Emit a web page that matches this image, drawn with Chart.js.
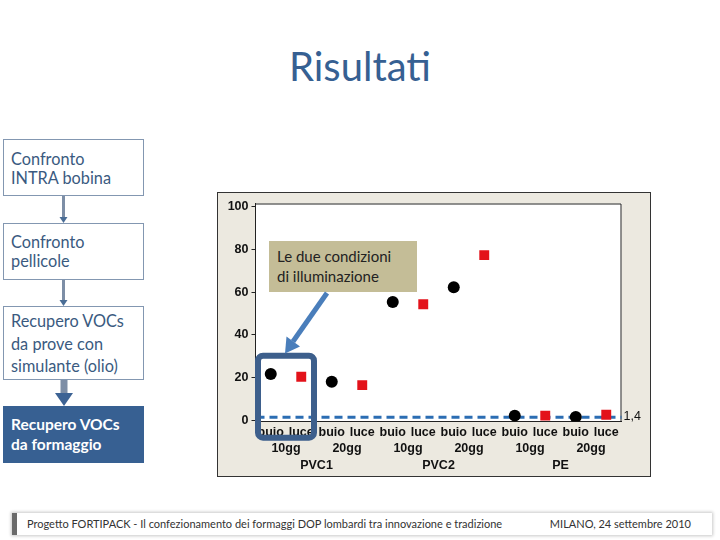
<!DOCTYPE html>
<html>
<head>
<meta charset="utf-8">
<script src="https://cdn.jsdelivr.net/npm/chart.js@4/dist/chart.umd.min.js"></script>
<style>
  html,body{margin:0;padding:0;background:#fff;}
  body{width:720px;height:540px;position:relative;overflow:hidden;font-family:Lato,"Open Sans",sans-serif;}
  #title{position:absolute;left:0;width:720px;top:42px;text-align:center;font-size:40px;color:#366092;line-height:48px;}
  .box{position:absolute;left:3px;width:141px;border:1px solid #8397b1;background:#fff;color:#3a5a80;font-size:16.3px;box-sizing:border-box;padding-left:7px;}
  .box.filled{background:#376092;border-color:#376092;color:#fff;font-weight:bold;font-size:15.5px;}
  #panel{position:absolute;left:217px;top:192px;width:434px;height:285px;box-sizing:border-box;border:1px solid #333;background:#ece9e0;}
  #chartWrap{position:absolute;left:218px;top:193px;width:432px;height:283px;}
  #note{position:absolute;left:269px;top:241px;width:148px;height:51px;background:#c4bd97;color:#222;font-size:15px;line-height:20px;box-sizing:border-box;padding:5px 0 0 8px;}
  #footer{position:absolute;left:12px;top:513px;width:700px;height:22px;background:#fff;box-shadow:0 0 3px 1px #c8c8c8;border-left:5px solid #6b6b6b;box-sizing:border-box;font-size:11px;color:#333;line-height:22px;}
  #footer .l{position:absolute;left:10px;}
  #footer .r{position:absolute;right:21px;}
  svg{position:absolute;left:0;top:0;}
</style>
</head>
<body>
<div id="title">Risultati</div>

<div class="box" style="top:139px;height:57px;line-height:19px;padding-top:9px;">Confronto<br>INTRA bobina</div>
<div class="box" style="top:223px;height:57px;line-height:19px;padding-top:8px;">Confronto<br>pellicole</div>
<div class="box" style="top:306px;height:74px;line-height:22.5px;padding-top:3px;">Recupero VOCs<br>da prove con<br>simulante (olio)</div>
<div class="box filled" style="top:406px;height:57px;line-height:20px;padding-top:7px;">Recupero VOCs<br>da formaggio</div>

<svg width="720" height="540" style="z-index:1">
  <line x1="63.5" y1="196" x2="63.5" y2="218" stroke="#7d8ea6" stroke-width="3"/>
  <polygon points="59.5,217 67.5,217 63.5,223" fill="#4a6d96"/>
  <line x1="63.5" y1="280" x2="63.5" y2="301" stroke="#7d8ea6" stroke-width="3"/>
  <polygon points="59.5,300 67.5,300 63.5,306" fill="#4a6d96"/>
  <line x1="64" y1="380" x2="64" y2="394" stroke="#7d8ea6" stroke-width="7"/>
  <polygon points="55,393 73,393 64,406" fill="#3d6394"/>
</svg>

<div id="panel"></div>
<div id="chartWrap"><canvas id="c" width="432" height="283"></canvas></div>

<div id="note">Le due condizioni<br>di illuminazione</div>
<svg width="720" height="540" style="z-index:3;pointer-events:none">
  <rect x="258" y="355.7" width="56" height="82" rx="5" ry="5" fill="none" stroke="#3d5f8c" stroke-width="6"/>
  <line x1="327" y1="293" x2="293" y2="341.5" stroke="#4a7ebb" stroke-width="5"/>
  <polygon points="285,353.5 300,346.5 286.5,336.5" fill="#4a7ebb"/>
</svg>

<div id="footer"><span class="l">Progetto FORTIPACK - Il confezionamento dei formaggi DOP lombardi tra innovazione e tradizione</span><span class="r">MILANO, 24 settembre 2010</span></div>

<script>
// ---- data ----
const tickLabels = ['buio','luce','buio','luce','buio','luce','buio','luce','buio','luce','buio','luce'];
const periods = ['10gg','20gg','10gg','20gg','10gg','20gg'];
const materials = ['PVC1','PVC2','PE'];
const buioValues = [21.7, 18.1, 55.5, 62.4, 2.2, 1.6];
const luceValues = [20.4, 16.5, 54.4, 77.4, 2.2, 2.6];
const thresholdValue = 1.4;
const thresholdLabel = '1,4';
const yTicks = [0, 20, 40, 60, 80, 100];

// build per-category series (buio at even slots, luce at odd slots)
const buioData = tickLabels.map((t, i) => (i % 2 === 0 ? buioValues[i / 2] : null));
const luceData = tickLabels.map((t, i) => (i % 2 === 1 ? luceValues[(i - 1) / 2] : null));

const TICK_FONT = 'bold 12.5px "Liberation Sans"';

const overlay = {
  id: 'overlay',
  beforeDraw(chart) {
    const {ctx, chartArea: a} = chart;
    ctx.save();
    ctx.fillStyle = '#fff';
    ctx.fillRect(a.left, a.top, a.width, a.height);
    ctx.restore();
  },
  beforeDatasetsDraw(chart) {
    const {ctx, chartArea: a, scales: {y}} = chart;
    ctx.save();
    ctx.strokeStyle = '#222';
    ctx.lineWidth = 1;
    ctx.beginPath();
    ctx.moveTo(a.left, a.top + 0.5);
    ctx.lineTo(a.right - 0.5, a.top + 0.5);
    ctx.lineTo(a.right - 0.5, a.bottom);
    ctx.stroke();
    const yy = y.getPixelForValue(thresholdValue);
    ctx.setLineDash([8, 5]);
    ctx.strokeStyle = '#2b6db3';
    ctx.lineWidth = 3;
    ctx.beginPath();
    ctx.moveTo(a.left + 1, yy);
    ctx.lineTo(a.right, yy);
    ctx.stroke();
    ctx.restore();
  },
  afterDraw(chart) {
    const {ctx, chartArea: a, scales: {x, y}} = chart;
    ctx.save();
    ctx.fillStyle = '#111';
    ctx.font = '12.5px "Liberation Sans"';
    ctx.textAlign = 'left';
    ctx.textBaseline = 'middle';
    ctx.fillText(thresholdLabel, a.right + 2, y.getPixelForValue(thresholdValue) - 1);
    ctx.font = TICK_FONT;
    ctx.textAlign = 'center';
    tickLabels.forEach((t, i) => {
      ctx.fillText(t, x.getPixelForValue(i), a.bottom + 11);
    });
    periods.forEach((p, i) => {
      const cx = (x.getPixelForValue(2 * i) + x.getPixelForValue(2 * i + 1)) / 2;
      ctx.fillText(p, cx, a.bottom + 27);
    });
    materials.forEach((m, i) => {
      const cx = (x.getPixelForValue(4 * i) + x.getPixelForValue(4 * i + 3)) / 2;
      ctx.fillText(m, cx, a.bottom + 44);
    });
    ctx.restore();
  }
};

new Chart(document.getElementById('c'), {
  type: 'line',
  data: {
    labels: tickLabels,
    datasets: [
      {label: 'buio', data: buioData, showLine: false, pointStyle: 'circle', pointRadius: 6, pointHoverRadius: 6,
       backgroundColor: '#000', borderColor: '#000', borderWidth: 0},
      {label: 'luce', data: luceData, showLine: false, pointStyle: 'rect', pointRadius: 7, pointHoverRadius: 7,
       backgroundColor: '#e3121a', borderColor: '#e3121a', borderWidth: 0}
    ]
  },
  options: {
    responsive: false,
    animation: false,
    events: [],
    layout: {padding: {left: 0, right: 28.5, top: 10.3, bottom: 0}},
    plugins: {legend: {display: false}, tooltip: {enabled: false}},
    scales: {
      x: {
        type: 'category',
        offset: true,
        grid: {display: false},
        border: {display: true, color: '#222', width: 1},
        ticks: {display: false},
        afterFit(s) { s.height = 54.5; }
      },
      y: {
        min: -0.55,
        max: 101.6,
        afterBuildTicks(s) { s.ticks = yTicks.map(v => ({value: v})); },
        grid: {display: true, drawOnChartArea: false, drawTicks: true, tickLength: 4, color: '#222'},
        border: {display: true, color: '#222', width: 1},
        ticks: {padding: 3, color: '#111', font: {family: '"Liberation Sans"', size: 12.5, weight: 'bold'}},
        afterFit(s) { s.width = 37.5; }
      }
    }
  },
  plugins: [overlay]
});
</script>
</body>
</html>
